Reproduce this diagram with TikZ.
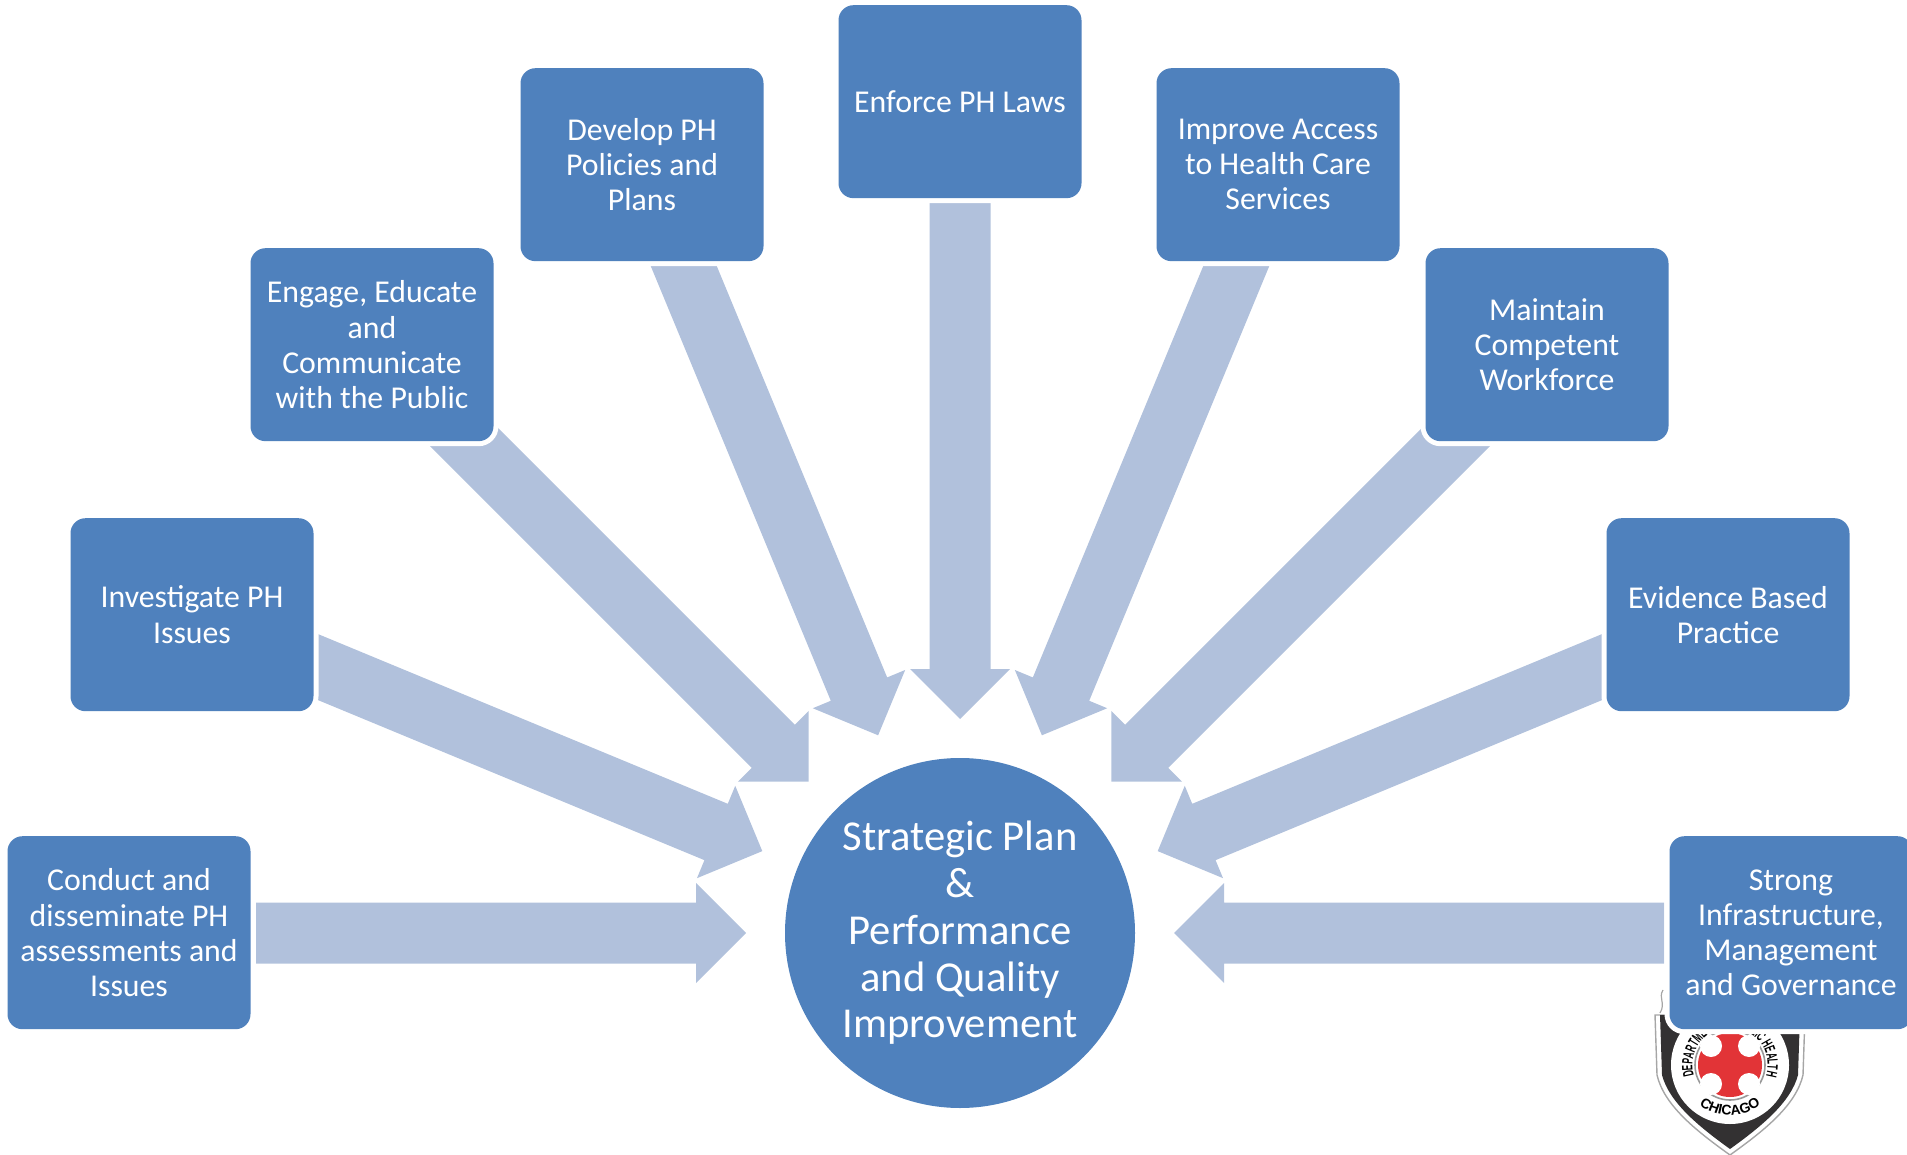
\documentclass[tikz,border=0pt]{standalone}
\usepackage{fontspec}
\setmainfont{Carlito}
\newfontfamily\logofont[FakeStretch=0.55]{Liberation Sans}
\newfontfamily\logocity{Liberation Sans}
\usetikzlibrary{decorations.text}
\pgfdeclarelayer{bg}
\pgfsetlayers{bg,main}
\definecolor{boxblue}{HTML}{4F81BD}
\definecolor{arrowblue}{HTML}{B1C1DC}
\definecolor{logored}{HTML}{E23437}
\definecolor{logoblack}{HTML}{333132}
\tikzset{
  taskbox/.style={shape=rectangle,rounded corners=7.5pt,minimum width=121.5pt,minimum height=96.5pt,
    inner sep=0pt,fill=boxblue,text=white,align=center,
    preaction={draw=white,line width=5pt},
    font=\fontsize{15.9}{17.6}\selectfont},
  hubnode/.style={shape=circle,minimum size=175pt,inner sep=0pt,fill=boxblue,text=white,align=center,
    font=\fontsize{21.3}{23.4}\selectfont},
  blockarrow/.style={fill=arrowblue}
}
\newcommand{\blockarrow}[2]{%
  \fill[blockarrow,shift={(hub.center)},rotate=#1]
    (#2,-30.5) -- (264,-30.5) -- (264,-50) -- (214,0) -- (264,50) -- (264,30.5) -- (#2,30.5) -- cycle;}
\begin{document}
\begin{tikzpicture}[x=0.5pt,y=-0.5pt]
\useasboundingbox (0,0) rectangle (1907,1155);
\clip (0,0) rectangle (1907,1155);
\node[hubnode] (hub) at (960,933) {Strategic Plan\\\&\\Performance\\and Quality\\Improvement};
\node[taskbox] (conduct) at (129,932.7) {Conduct and\\disseminate PH\\assessments and\\Issues};
\node[taskbox] (investigate) at (192,614.7) {Investigate PH\\Issues};
\node[taskbox] (engage) at (372,344.7) {Engage, Educate\\and\\Communicate\\with the Public};
\node[taskbox] (develop) at (642,164.7) {Develop PH\\Policies and\\Plans};
\node[taskbox] (enforce) at (960,101.7) {Enforce PH Laws};
\node[taskbox] (improve) at (1278,164.7) {Improve Access\\to Health Care\\Services};
\node[taskbox] (maintain) at (1547,344.7) {Maintain\\Competent\\Workforce};
\node[taskbox] (evidence) at (1728,614.7) {Evidence Based\\Practice};
\node[taskbox] (strong) at (1791,932.7) {Strong\\Infrastructure,\\Management\\and Governance};
\begin{pgfonlayer}{bg}
  % logo
  \draw[fill=white,draw=gray!70,line width=0.7pt]
    (1655,1015) -- (1657,1075) .. controls (1664,1105) and (1695,1130) .. (1730,1155)
    .. controls (1765,1130) and (1796,1105) .. (1803,1075) -- (1805,1015) -- cycle;
  \fill[logoblack]
    (1660,1015) -- (1662,1075) .. controls (1669,1102) and (1698,1126) .. (1730,1149)
    .. controls (1762,1126) and (1791,1102) .. (1798,1075) -- (1800,1015) -- cycle;
  \draw[gray!70,line width=0.6pt] (1663,990) .. controls (1658,998) and (1666,1003) .. (1660,1013);
  \fill[white] (1730,1065) circle (59);
  \draw[gray!80,line width=0.8pt] (1730,1065) circle (35);
  \fill[logored] (1730,1065) circle (32);
  \foreach \sx/\sy in {-1/-1,1/-1,-1/1,1/1}
    \fill[white] (1730+\sx*19,1065+\sy*19) circle (11);
  \begin{scope}[shift={(1730,1065)},x=0.5pt,y=0.5pt]
    \path[decorate,decoration={text along path,text align=center,
      text={|\logofont\bfseries\fontsize{7.5}{8}\selectfont|DEPARTMENT OF PUBLIC HEALTH}}]
      (214:37.5) arc[start angle=214,end angle=-34,radius=37.5];
    \path[decorate,decoration={text along path,text align=center,
      text={|\logocity\bfseries\fontsize{7}{8}\selectfont|CHICAGO}}]
      (205:50.5) arc[start angle=205,end angle=335,radius=50.5];
  \end{scope}
  % arrows
  \blockarrow{180}{704}
  \blockarrow{157.5}{735}
  \blockarrow{135}{740}
  \blockarrow{112.5}{755}
  \blockarrow{90}{730}
  \blockarrow{67.5}{755}
  \blockarrow{45}{740}
  \blockarrow{22.5}{735}
  \blockarrow{0}{704}
\end{pgfonlayer}
\end{tikzpicture}
\end{document}
